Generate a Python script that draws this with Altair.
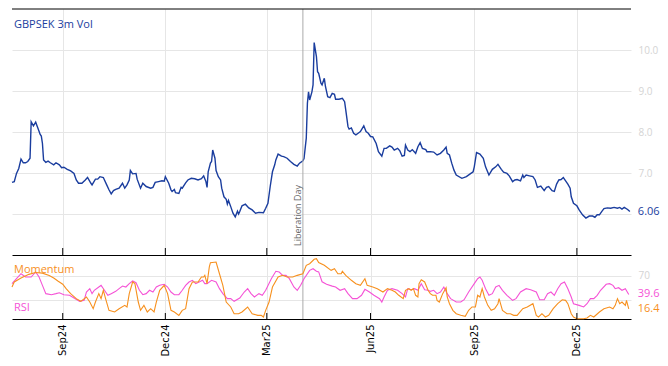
import altair as alt
import pandas as pd

START = "2024-07-18"

# GBPSEK 3m implied vol (day offset from START, value)
vol_days = [
    0, 2, 4, 6, 8, 10, 12, 14, 16, 17,
    19, 21, 23, 25, 26, 27, 28, 30, 32, 34,
    37, 39, 42, 44, 46, 49, 52, 55, 57, 59,
    62, 65, 67, 70, 71, 74, 76, 78, 81, 84,
    86, 88, 90, 92, 95, 98, 100, 102, 104, 105,
    107, 110, 111, 114, 116, 119, 123, 125, 127, 130,
    133, 135, 136, 139, 141, 142, 144, 145, 148, 150,
    151, 154, 156, 159, 162, 165, 168, 170, 172, 173,
    174, 176, 177, 178, 180, 181, 183, 185, 186, 188,
    190, 191, 192, 194, 196, 198, 200, 201, 202, 204,
    207, 210, 213, 216, 219, 223, 225, 227, 229, 231,
    233, 234, 236, 239, 241, 244, 247, 250, 253, 255,
    258, 259, 261, 262, 263, 264, 266, 267, 268, 270,
    271, 272, 274, 275, 277, 278, 280, 282, 284, 286,
    287, 290, 293, 295, 296, 298, 299, 301, 303, 305,
    307, 309, 312, 314, 316, 318, 320, 323, 325, 328,
    330, 332, 335, 337, 339, 342, 344, 346, 348, 349,
    351, 353, 355, 358, 360, 362, 364, 367, 368, 371,
    374, 377, 380, 383, 385, 386, 388, 390, 392, 394,
    399, 403, 407, 409, 410, 412, 415, 418, 420, 423,
    426, 429, 431, 434, 436, 439, 441, 444, 446, 448,
    451, 453, 454, 456, 459, 462, 464, 466, 469, 472,
    474, 476, 479, 481, 483, 485, 487, 489, 491, 493,
    495, 496, 498, 501, 503, 506, 509, 512, 515, 517,
    519, 521, 523, 525, 528, 531, 534, 537, 539, 541,
    543, 546, 548,
]
vol_values = [
    6.77, 6.79, 6.99, 7.11, 7.34, 7.25, 7.25, 7.28, 7.36, 8.25,
    8.15, 8.24, 8.09, 7.94, 7.90, 7.72, 7.32, 7.26, 7.29, 7.25,
    7.20, 7.25, 7.20, 7.13, 7.14, 7.09, 7.05, 6.99, 6.83, 6.75,
    6.75, 6.83, 6.89, 6.75, 6.71, 6.85, 6.85, 6.91, 6.89, 6.71,
    6.59, 6.49, 6.57, 6.60, 6.63, 6.75, 6.63, 6.71, 6.83, 7.06,
    6.98, 6.99, 6.85, 6.63, 6.75, 6.67, 6.63, 6.65, 6.77, 6.79,
    6.81, 6.80, 6.91, 6.75, 6.59, 6.55, 6.60, 6.52, 6.50, 6.65,
    6.63, 6.76, 6.83, 6.87, 6.86, 6.83, 6.86, 6.93, 6.79, 6.65,
    7.03, 7.24, 7.28, 7.56, 7.36, 7.06, 6.91, 6.83, 6.63, 6.42,
    6.36, 6.24, 6.33, 6.18, 6.02, 5.93, 6.07, 6.00, 6.06, 6.20,
    6.24, 6.15, 6.10, 6.02, 6.04, 6.03, 6.14, 6.26, 6.67, 7.03,
    7.20, 7.32, 7.46, 7.41, 7.40, 7.36, 7.28, 7.21, 7.17, 7.24,
    7.30, 7.35, 7.85, 8.70, 8.98, 8.78, 8.98, 9.15, 10.18, 9.84,
    9.47, 9.43, 9.19, 9.15, 9.31, 9.11, 8.86, 8.84, 8.94, 8.92,
    8.80, 8.80, 8.82, 8.74, 8.54, 8.13, 8.07, 8.10, 7.97, 7.93,
    7.97, 8.01, 8.15, 8.01, 7.97, 7.89, 7.88, 7.72, 7.52, 7.41,
    7.60, 7.60, 7.66, 7.63, 7.56, 7.60, 7.54, 7.41, 7.43, 7.68,
    7.56, 7.52, 7.57, 7.48, 7.64, 7.74, 7.60, 7.57, 7.52, 7.52,
    7.51, 7.44, 7.48, 7.56, 7.63, 7.48, 7.44, 7.24, 7.07, 6.95,
    6.87, 6.91, 6.99, 7.03, 7.15, 7.50, 7.46, 7.36, 7.15, 6.95,
    7.09, 7.15, 7.21, 7.09, 7.02, 6.99, 6.93, 6.79, 6.83, 6.84,
    6.81, 6.95, 6.89, 6.95, 6.93, 6.91, 6.83, 6.65, 6.68, 6.57,
    6.65, 6.67, 6.57, 6.55, 6.73, 6.83, 6.84, 6.89, 6.81, 6.73,
    6.63, 6.42, 6.26, 6.20, 6.10, 5.98, 5.90, 5.95, 5.95, 5.92,
    5.98, 5.98, 6.06, 6.13, 6.15, 6.14, 6.16, 6.14, 6.16, 6.12,
    6.16, 6.11, 6.06,
]

# Momentum (0-100)
mom_days = [
    0, 2, 8, 15, 21, 27, 33, 37, 41, 45,
    48, 52, 57, 61, 66, 69, 72, 74, 77, 79,
    81, 83, 86, 91, 95, 100, 102, 104, 107, 109,
    112, 114, 117, 120, 123, 126, 128, 131, 135, 138,
    141, 144, 148, 151, 154, 157, 160, 165, 168, 170,
    171, 173, 175, 176, 181, 184, 187, 190, 194, 197,
    201, 204, 209, 213, 218, 221, 223, 225, 228, 231,
    236, 240, 244, 249, 253, 258, 261, 264, 268, 270,
    272, 277, 283, 286, 289, 292, 293, 296, 301, 305,
    309, 313, 315, 320, 324, 329, 333, 337, 340, 343,
    347, 349, 352, 354, 356, 358, 360, 361, 363, 366,
    369, 371, 373, 376, 377, 379, 382, 385, 386, 388,
    391, 394, 398, 402, 405, 408, 411, 413, 415, 417,
    419, 422, 425, 428, 431, 432, 435, 439, 442, 445,
    448, 453, 457, 462, 465, 467, 470, 473, 476, 480,
    484, 488, 491, 493, 496, 498, 501, 507, 510, 513,
    516, 521, 525, 530, 533, 535, 537, 539, 541, 544,
    545, 547,
]
mom_values = [
    51.6, 59.7, 66, 72, 75, 74, 70, 66, 60.8, 56,
    48.9, 40.9, 32.8, 28.5, 35.5, 27.4, 16.7, 27.4, 40.9, 32.8,
    46.3, 32.8, 14, 11.3, 16.6, 22, 19.4, 40.9, 59.7, 57,
    27.4, 14, 22, 11.3, 16.6, 11.3, 27.4, 46.3, 54.3, 40.9,
    14, 11.3, 5.9, 14, 16.6, 48.9, 59.7, 59.7, 67.7, 67.7,
    70.4, 57, 83.9, 90.8, 91.9, 73, 54.3, 27.4, 19.4, 8.5,
    8.5, 11.3, 19.4, 8.5, 5.9, 5.9, 3.2, 14, 27.4, 51.6,
    67.7, 70.4, 67.7, 67.7, 70.4, 73, 86.6, 89.2, 96.3, 97.3,
    91, 86.6, 78.5, 81.1, 73, 73, 76.9, 70.4, 62.4, 57,
    54.3, 65, 54.3, 51.6, 48.9, 43.5, 48.9, 46.3, 43.5, 38.2,
    32.8, 46.3, 48.9, 46.3, 48.9, 38.2, 35.5, 57, 63.4, 59.7,
    46.3, 40.9, 38.2, 38.2, 30.1, 27.4, 40.9, 50.5, 35.5, 24.7,
    14, 8.5, 5.9, 4.4, 14, 19.4, 19.4, 38.2, 35.5, 48.9,
    35.5, 22, 14, 16.6, 24.7, 32.8, 14, 8.5, 8.5, 5.9,
    5.9, 16.6, 19.4, 24.7, 5.9, 3.2, 8.5, 3.2, 5.9, 16.6,
    24.7, 31.1, 30.1, 24.7, 8.5, 3.2, 0.5, 0.5, 1.6, 5.9,
    3.2, 11.3, 16.6, 19.4, 16.6, 22, 32.8, 24.7, 27.4, 22,
    30.1, 16.4,
]

# RSI (0-100)
rsi_days = [
    0, 4, 8, 12, 17, 21, 24, 27, 30, 35,
    39, 42, 46, 51, 55, 60, 64, 66, 69, 71,
    73, 77, 79, 82, 85, 88, 92, 95, 98, 101,
    104, 107, 110, 113, 116, 119, 122, 125, 128, 131,
    135, 138, 141, 144, 148, 151, 154, 157, 160, 163,
    166, 169, 171, 173, 177, 181, 184, 187, 191, 194,
    197, 202, 206, 209, 212, 215, 219, 222, 225, 230,
    234, 237, 240, 243, 246, 250, 253, 256, 259, 264,
    267, 270, 272, 275, 279, 284, 287, 291, 295, 298,
    302, 306, 310, 313, 317, 321, 326, 328, 330, 333,
    337, 342, 346, 349, 351, 354, 357, 360, 363, 366,
    369, 371, 374, 377, 380, 383, 386, 389, 394, 398,
    401, 405, 410, 413, 415, 417, 420, 423, 426, 429,
    432, 435, 439, 444, 447, 451, 456, 460, 465, 468,
    472, 475, 478, 481, 484, 487, 490, 493, 496, 498,
    503, 507, 510, 513, 516, 519, 522, 527, 530, 533,
    535, 538, 541, 544, 547,
]
rsi_values = [
    57, 65, 73, 67.7, 67.7, 75.8, 67.7, 54.3, 40.9, 39.2,
    40.9, 42.4, 39.2, 38.2, 33.9, 28.5, 30.1, 43.5, 48.9, 40.9,
    46.3, 51.6, 54.3, 46.3, 38.2, 40.9, 44.6, 48.9, 53.2, 51.6,
    57, 61.3, 58.5, 46.3, 39.2, 40.9, 46.3, 43.5, 51.6, 54.3,
    56, 51.6, 43.5, 39.2, 39.2, 46.3, 54.3, 59.7, 62.4, 57,
    59.7, 62.4, 57, 57, 62.4, 59.7, 48.9, 40.9, 32.8, 32.8,
    28.5, 33.9, 43.5, 48.9, 40.9, 35.5, 40.9, 38.2, 46.3, 65,
    76.9, 75.8, 70.4, 70.4, 65, 51.6, 46.3, 54.3, 65, 78.5,
    81.1, 77, 76, 60, 56, 53, 51.6, 46.3, 48.9, 40.9,
    32.8, 32.8, 38.2, 47.8, 43.5, 38.2, 32.8, 27.4, 35.5, 46.3,
    48.9, 46.3, 40.9, 35.5, 48.9, 47.3, 48.9, 46.3, 57, 47.3,
    46.3, 44.6, 46.3, 40.9, 43.5, 51.6, 40.9, 32.8, 27.4, 27.4,
    31.1, 43.5, 57, 65, 67.7, 62.4, 48.9, 38.2, 40.9, 51.6,
    54.3, 46.3, 38.2, 30.1, 32.8, 43.5, 48.9, 47.3, 43.5, 31.1,
    31.1, 40.9, 43.5, 38.2, 48.9, 57, 59.7, 48.9, 35.5, 24.7,
    22, 19.4, 24.7, 32.8, 32.8, 38.2, 46.3, 56, 57, 54.3,
    48.9, 50.5, 46.3, 48.9, 39.6,
]

tick_months = [(2024, 9), (2024, 12), (2025, 3), (2025, 6), (2025, 9), (2025, 12)]
event_dates = ["2025-04-02"]
event_labels = ["Liberation Day"]

BLUE = "#1a3d9e"
ORANGE = "#f7901e"
PINK = "#f553d6"
GRID = "#e6e6e6"
FONT = "Open Sans"

W, H1, H2 = 619, 246, 62


def to_dates(days):
    base = pd.Timestamp(START)
    return [base + pd.Timedelta(days=d) for d in days]


vol_df = pd.DataFrame({"date": to_dates(vol_days), "v": vol_values})
mom_df = pd.DataFrame({"date": to_dates(mom_days), "v": mom_values})
rsi_df = pd.DataFrame({"date": to_dates(rsi_days), "v": rsi_values})
tick_df = pd.DataFrame({"date": [pd.Timestamp(year=y, month=m, day=1) for y, m in tick_months]})
event_df = pd.DataFrame({"date": pd.to_datetime(event_dates), "label": event_labels})
vol_last = vol_df.tail(1).assign(lab=lambda d: d["v"].map(lambda x: f"{x:.2f}"))
mom_last = mom_df.tail(1).assign(lab=lambda d: d["v"].map(lambda x: f"{x:.1f}"))
rsi_last = rsi_df.tail(1).assign(lab=lambda d: d["v"].map(lambda x: f"{x:.1f}"))
anchor = pd.DataFrame({"a": [0]})

xscale = alt.Scale(domain=[alt.DateTime(year=2024, month=7, date=18),
                           alt.DateTime(year=2026, month=1, date=18)])
tick_vals = [alt.DateTime(year=y, month=m, date=1) for y, m in tick_months]

x_top = alt.X("date:T", scale=xscale,
              axis=alt.Axis(values=tick_vals, grid=True, gridColor=GRID, labels=False,
                            ticks=False, domain=True, domainColor="#000", domainWidth=1, title=None))
x_bot = alt.X("date:T", scale=xscale,
              axis=alt.Axis(values=tick_vals, grid=True, gridColor=GRID, format="%b%y",
                            labelAngle=270, labelFontSize=10, labelColor="#000", labelFont="DejaVu Sans",
                            labelPadding=5, ticks=False, domain=True, domainColor="#000",
                            domainWidth=1, title=None))

y_top = alt.Y("v:Q", scale=alt.Scale(domain=[5, 11], nice=False, zero=False),
              axis=alt.Axis(orient="right", values=[6, 7, 8, 9, 10],
                            labelExpr="datum.value == 6 ? '' : format(datum.value, '.1f')",
                            grid=True, gridColor=GRID, domain=False, ticks=False,
                            labelColor="#d4d4d4", labelFontSize=10, labelPadding=7, title=None))
y_bot = alt.Y("v:Q", scale=alt.Scale(domain=[0, 100], nice=False),
              axis=alt.Axis(orient="right", values=[30, 70],
                            labelExpr="datum.value == 70 ? '70' : ''",
                            grid=True, gridColor=GRID, domain=False, ticks=False,
                            labelColor="#d4d4d4", labelFontSize=10, labelPadding=7, title=None))

# ---- top panel ----
vol_line = alt.Chart(vol_df).mark_line(color=BLUE, strokeWidth=1.4).encode(x=x_top, y=y_top)
ev_rule_top = alt.Chart(event_df).mark_rule(color="#aaaaaa", strokeWidth=1).encode(x="date:T")
ev_text = alt.Chart(event_df).mark_text(angle=270, align="left", baseline="bottom", dx=-3,
                                        fontSize=9, color="#666666", font=FONT).encode(
    x="date:T", y=alt.value(H1 - 12), text="label:N")
ticks_top = alt.Chart(tick_df).mark_rule(color="#000").encode(
    x="date:T", y=alt.value(H1 - 7), y2=alt.value(H1))
top_border = alt.Chart(anchor).mark_rule(color="#000").encode(
    x=alt.value(0), x2=alt.value(W), y=alt.value(0))
title_txt = alt.Chart(anchor).mark_text(align="left", baseline="middle", fontSize=11,
                                        color=BLUE, font=FONT).encode(
    x=alt.value(2), y=alt.value(16), text=alt.value("GBPSEK 3m Vol"))
vol_lab = alt.Chart(vol_last).mark_text(align="left", baseline="middle", dx=8, fontSize=11,
                                        color=BLUE, font=FONT).encode(
    x="date:T", y="v:Q", text="lab:N")

top = alt.layer(vol_line, ev_rule_top, ev_text, ticks_top, top_border, title_txt,
                vol_lab).properties(width=W, height=H1)

# ---- bottom panel ----
rsi_line = alt.Chart(rsi_df).mark_line(color=PINK, strokeWidth=1.1).encode(x=x_bot, y=y_bot)
mom_line = alt.Chart(mom_df).mark_line(color=ORANGE, strokeWidth=1.1).encode(x=x_bot, y=y_bot)
ev_rule_bot = alt.Chart(event_df).mark_rule(color="#aaaaaa", strokeWidth=1).encode(x="date:T")
ticks_bot = alt.Chart(tick_df).mark_rule(color="#000").encode(
    x="date:T", y=alt.value(H2 - 6), y2=alt.value(H2))
mom_txt = alt.Chart(anchor).mark_text(align="left", baseline="middle", fontSize=11,
                                      color=ORANGE, font=FONT).encode(
    x=alt.value(2), y=alt.value(13), text=alt.value("Momentum"))
rsi_txt = alt.Chart(anchor).mark_text(align="left", baseline="middle", fontSize=11,
                                      color=PINK, font=FONT).encode(
    x=alt.value(2), y=alt.value(51), text=alt.value("RSI"))
rsi_lab = alt.Chart(rsi_last).mark_text(align="left", baseline="middle", dx=9, fontSize=11,
                                        color=PINK, font=FONT).encode(
    x="date:T", y="v:Q", text="lab:N")
mom_lab = alt.Chart(mom_last).mark_text(align="left", baseline="middle", dx=9, fontSize=11,
                                        color=ORANGE, font=FONT).encode(
    x="date:T", y="v:Q", text="lab:N")

bottom = alt.layer(ev_rule_bot, rsi_line, mom_line, ticks_bot, mom_txt, rsi_txt,
                   rsi_lab, mom_lab).properties(width=W, height=H2)

chart = alt.vconcat(top, bottom, spacing=0).properties(
    padding={"left": 1, "top": 0, "right": 0, "bottom": 0}
).configure_view(stroke=None).configure_axis(labelFont=FONT)

chart.save("out.html", embed_options={"renderer": "svg", "actions": False})
